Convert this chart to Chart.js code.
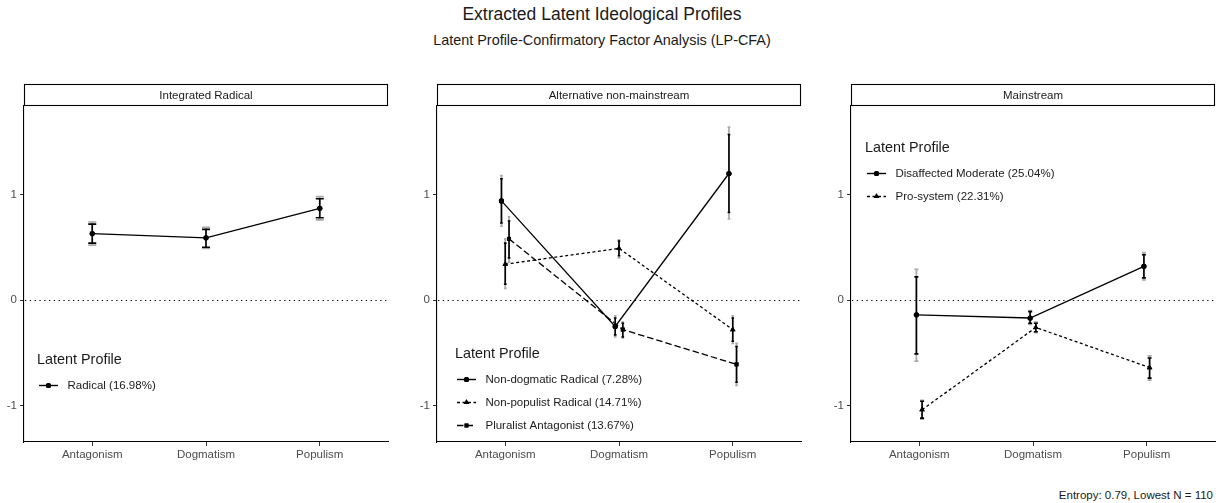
<!DOCTYPE html>
<html>
<head>
<meta charset="utf-8">
<script src="https://cdn.jsdelivr.net/npm/chart.js@4.4.1/dist/chart.umd.min.js"></script>
<style>
html,body{margin:0;padding:0;background:#fff;width:1216px;height:503px;overflow:hidden;position:relative;font-family:"Liberation Sans",Arial,Helvetica,sans-serif;}
.t{position:absolute;white-space:nowrap;color:#1a1a1a;line-height:1;}
canvas{position:absolute;}
</style>
</head>
<body>
<div class="t" id="title" style="left:0;width:1204px;text-align:center;top:6px;font-size:17.5px;"></div>
<div class="t" id="subtitle" style="left:0;width:1204px;text-align:center;top:33px;font-size:14.4px;"></div>
<div class="t" id="caption" style="right:3px;top:490px;font-size:11.5px;"></div>
<script>
// ---------- text ----------
const chartTitle = 'Extracted Latent Ideological Profiles';
const chartSubtitle = 'Latent Profile-Confirmatory Factor Analysis (LP-CFA)';
const chartCaption = 'Entropy: 0.79, Lowest N = 110';
const legendTitle = 'Latent Profile';

// ---------- axes ----------
const categories = ['Antagonism', 'Dogmatism', 'Populism'];
const panelTitles = ['Integrated Radical', 'Alternative non-mainstream', 'Mainstream'];
const yTicks = [-1, 0, 1];

// ---------- Integrated Radical ----------
const radicalName = 'Radical (16.98%)';
const radicalMean = [0.63, 0.59, 0.87];
const radicalLo90 = [0.54, 0.50, 0.78];
const radicalHi90 = [0.72, 0.67, 0.96];
const radicalLo95 = [0.52, 0.49, 0.76];
const radicalHi95 = [0.74, 0.69, 0.98];

// ---------- Alternative non-mainstream ----------
const nonDogName = 'Non-dogmatic Radical (7.28%)';
const nonDogMean = [0.94, -0.25, 1.20];
const nonDogLo90 = [0.73, -0.33, 0.83];
const nonDogHi90 = [1.15, -0.17, 1.57];
const nonDogLo95 = [0.70, -0.35, 0.77];
const nonDogHi95 = [1.18, -0.15, 1.64];

const nonPopName = 'Non-populist Radical (14.71%)';
const nonPopMean = [0.34, 0.49, -0.28];
const nonPopLo90 = [0.15, 0.42, -0.39];
const nonPopHi90 = [0.54, 0.56, -0.17];
const nonPopLo95 = [0.11, 0.40, -0.41];
const nonPopHi95 = [0.58, 0.57, -0.15];

const pluralName = 'Pluralist Antagonist (13.67%)';
const pluralMean = [0.58, -0.28, -0.61];
const pluralLo90 = [0.40, -0.35, -0.78];
const pluralHi90 = [0.75, -0.22, -0.44];
const pluralLo95 = [0.36, -0.36, -0.81];
const pluralHi95 = [0.79, -0.21, -0.41];

// ---------- Mainstream ----------
const disaffName = 'Disaffected Moderate (25.04%)';
const disaffMean = [-0.14, -0.17, 0.32];
const disaffLo90 = [-0.51, -0.22, 0.21];
const disaffHi90 = [0.22, -0.11, 0.43];
const disaffLo95 = [-0.58, -0.23, 0.19];
const disaffHi95 = [0.29, -0.10, 0.45];

const proSysName = 'Pro-system (22.31%)';
const proSysMean = [-1.04, -0.26, -0.64];
const proSysLo90 = [-1.12, -0.30, -0.74];
const proSysHi90 = [-0.96, -0.22, -0.55];
const proSysLo95 = [-1.13, -0.31, -0.76];
const proSysHi95 = [-0.95, -0.21, -0.53];

// ---------- styles / layout ----------
const FONT = '"Liberation Sans", Arial, Helvetica, sans-serif';
Chart.defaults.font.family = FONT;
const lineStyles = [
  {dash: [], point: 'circle', r: 2.6},
  {dash: [3, 2.5], point: 'triangle', r: 3.2},
  {dash: [6.5, 3], point: 'rect', r: 2.8}
];
const S = (name, mean, lo90, hi90, lo95, hi95, style) => ({name, mean, lo90, hi90, lo95, hi95, style});

const panels = [
  {title: panelTitles[0], legend: {x: 15, y: 254},
   series: [S(radicalName, radicalMean, radicalLo90, radicalHi90, radicalLo95, radicalHi95, 0)]},
  {title: panelTitles[1], legend: {x: 20, y: 248},
   series: [S(nonDogName, nonDogMean, nonDogLo90, nonDogHi90, nonDogLo95, nonDogHi95, 0),
            S(nonPopName, nonPopMean, nonPopLo90, nonPopHi90, nonPopLo95, nonPopHi95, 1),
            S(pluralName, pluralMean, pluralLo90, pluralHi90, pluralLo95, pluralHi95, 2)]},
  {title: panelTitles[2], legend: {x: 16, y: 42},
   series: [S(disaffName, disaffMean, disaffLo90, disaffHi90, disaffLo95, disaffHi95, 0),
            S(proSysName, proSysMean, proSysLo90, proSysHi90, proSysLo95, proSysHi95, 1)]}
];

document.getElementById('title').textContent = chartTitle;
document.getElementById('subtitle').textContent = chartSubtitle;
document.getElementById('caption').textContent = chartCaption;

const DODGE = 0.1;
function dodgeOffset(i, n) { return (i - (n - 1) / 2) * DODGE / n; }

function drawMarker(ctx, style, x, y) {
  Chart.helpers.drawPoint(ctx, {pointStyle: style.point, radius: style.r, borderWidth: 0, rotation: 0}, x, y);
  ctx.fill();
}

const facetPlugin = {
  id: 'facet',
  beforeDatasetsDraw(chart) {
    const {ctx, chartArea: a, scales: {y}} = chart;
    const py = Math.round(y.getPixelForValue(0)) + 0.5;
    ctx.save();
    ctx.strokeStyle = '#000';
    ctx.lineWidth = 1.1;
    ctx.setLineDash([1.3, 3.5]);
    ctx.beginPath(); ctx.moveTo(a.left + 1, py); ctx.lineTo(a.right, py); ctx.stroke();
    ctx.restore();
  },
  afterDatasetsDraw(chart) {
    const {ctx, chartArea: a, scales: {x, y}} = chart;
    const p = chart.options.plugins.facet.panel;
    const n = p.series.length;
    const cap = 8 / n;
    ctx.save();
    // error bars
    p.series.forEach((s, si) => {
      const off = dodgeOffset(si, n);
      s.mean.forEach((m, j) => {
        const px = x.getPixelForValue(j + 1 + off);
        [[s.lo95, s.hi95, '#a9a9a9', 1.7], [s.lo90, s.hi90, '#000', 1.6]].forEach(([lo, hi, col, lw]) => {
          const y1 = y.getPixelForValue(lo[j]), y2 = y.getPixelForValue(hi[j]);
          ctx.strokeStyle = col; ctx.lineWidth = lw; ctx.setLineDash([]);
          ctx.beginPath();
          ctx.moveTo(px, y1); ctx.lineTo(px, y2);
          ctx.moveTo(px - cap / 2, y1); ctx.lineTo(px + cap / 2, y1);
          ctx.moveTo(px - cap / 2, y2); ctx.lineTo(px + cap / 2, y2);
          ctx.stroke();
        });
      });
    });
    // redraw markers on top
    p.series.forEach((s, si) => {
      const off = dodgeOffset(si, n);
      const st = lineStyles[s.style];
      ctx.fillStyle = '#000';
      s.mean.forEach((m, j) => drawMarker(ctx, st, x.getPixelForValue(j + 1 + off), y.getPixelForValue(m)));
    });
    // legend
    const lx = a.left + p.legend.x, ly = a.top + p.legend.y;
    ctx.fillStyle = '#1a1a1a';
    ctx.textBaseline = 'middle';
    ctx.textAlign = 'left';
    ctx.font = '14.4px ' + FONT;
    ctx.fillText(legendTitle, lx - 2, ly);
    ctx.font = '11.5px ' + FONT;
    p.series.forEach((s, si) => {
      const ey = ly + 25.5 + si * 23;
      const st = lineStyles[s.style];
      ctx.strokeStyle = '#000'; ctx.lineWidth = 1.4; ctx.setLineDash(st.dash);
      ctx.beginPath(); ctx.moveTo(lx, ey); ctx.lineTo(lx + 19, ey); ctx.stroke();
      ctx.setLineDash([]);
      ctx.fillStyle = '#000';
      drawMarker(ctx, st, lx + 9.5, ey);
      ctx.fillStyle = '#1a1a1a';
      ctx.fillText(s.name, lx + 28.5, ey + 0.5);
    });
    ctx.restore();
  },
  afterDraw(chart) {
    const {ctx, chartArea: a} = chart;
    const p = chart.options.plugins.facet.panel;
    ctx.save();
    ctx.fillStyle = '#fff';
    ctx.strokeStyle = '#000';
    ctx.lineWidth = 1.1;
    ctx.setLineDash([]);
    ctx.fillRect(a.left, a.top - 22, a.right - a.left, 22);
    ctx.strokeRect(a.left + 0.5, a.top - 21.5, a.right - a.left - 1, 21);
    ctx.fillStyle = '#1a1a1a';
    ctx.font = '11.5px ' + FONT;
    ctx.textAlign = 'center';
    ctx.textBaseline = 'middle';
    ctx.fillText(p.title, (a.left + a.right) / 2, a.top - 10.5);
    ctx.restore();
  }
};

const PLOT_W = 364, YAXIS_W = 40, CANVAS_W = 410, CANVAS_H = 385;
panels.forEach((p, pi) => {
  const plotLeft = Math.round(24 + 413.33 * pi);
  const cv = document.createElement('canvas');
  cv.width = CANVAS_W; cv.height = CANVAS_H;
  cv.style.left = (plotLeft - YAXIS_W) + 'px';
  cv.style.top = '80px';
  cv.style.width = CANVAS_W + 'px'; cv.style.height = CANVAS_H + 'px';
  document.body.appendChild(cv);
  const n = p.series.length;
  const datasets = p.series.map((s, si) => {
    const st = lineStyles[s.style];
    const off = dodgeOffset(si, n);
    return {
      label: s.name,
      data: s.mean.map((m, j) => ({x: j + 1 + off, y: m})),
      borderColor: '#000', backgroundColor: '#000',
      borderWidth: 1.3, borderDash: st.dash,
      pointStyle: st.point, pointRadius: 0,
      tension: 0, fill: false
    };
  });
  const tickFont = {size: 11.5, family: FONT};
  new Chart(cv, {
    type: 'line',
    data: {datasets},
    plugins: [facetPlugin],
    options: {
      responsive: false, animation: false, events: [],
      layout: {padding: {top: 26, right: CANVAS_W - YAXIS_W - PLOT_W, left: 0, bottom: 0}},
      plugins: {legend: {display: false}, tooltip: {enabled: false}, facet: {panel: p}},
      scales: {
        x: {
          type: 'linear', min: 0.4, max: 3.6,
          afterBuildTicks: s => { s.ticks = categories.map((c, i) => ({value: i + 1})); },
          afterFit: s => { s.height = 23; },
          ticks: {callback: v => categories[v - 1], color: '#4d4d4d', font: tickFont, padding: 2, maxRotation: 0, autoSkip: false},
          grid: {display: true, drawOnChartArea: false, drawTicks: true, tickLength: 4, color: '#333', tickWidth: 1},
          border: {display: true, color: '#000', width: 1.1}
        },
        y: {
          type: 'linear', min: -1.346, max: 1.84,
          afterBuildTicks: s => { s.ticks = yTicks.map(v => ({value: v})); },
          afterFit: s => { s.width = YAXIS_W; },
          ticks: {callback: v => String(v), color: '#4d4d4d', font: tickFont, padding: 3},
          grid: {display: true, drawOnChartArea: false, drawTicks: true, tickLength: 4, color: '#333', tickWidth: 1},
          border: {display: true, color: '#000', width: 1.1}
        }
      }
    }
  });
});
</script>
</body>
</html>
